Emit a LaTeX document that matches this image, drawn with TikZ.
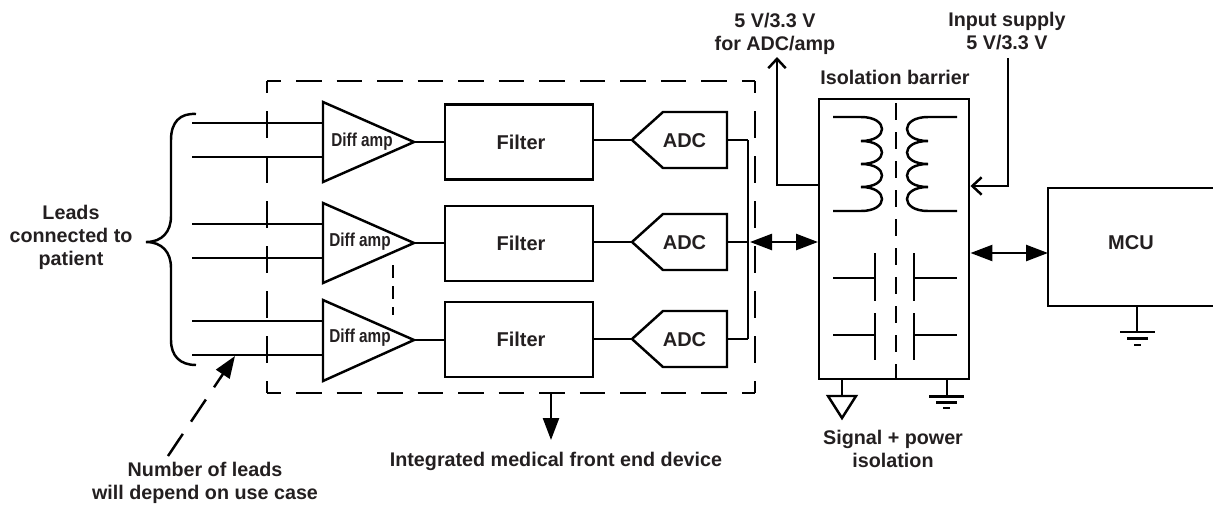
\documentclass[tikz,border=0pt]{standalone}
\usepackage{fontspec}
\setmainfont{Liberation Sans}[BoldFont={Liberation Sans Bold}]
\newfontfamily\condfont{Liberation Sans Bold}[FakeStretch=0.82]
\usetikzlibrary{arrows.meta}
\definecolor{ink}{HTML}{231F20}
\tikzset{
  x=0.75pt,y=-0.75pt,
  wire/.style={draw=black,line width=1.85pt,line cap=butt,line join=miter},
  block/.style={wire,inner sep=0pt,minimum width=0pt},
  lab/.style={font=\fontsize{14.8pt}{17pt}\selectfont\bfseries,text=ink,align=center,inner sep=0pt},
  amplab/.style={font=\condfont\fontsize{14pt}{16pt}\selectfont,text=ink,inner sep=0pt},
  boxlab/.style={lab,font=\fontsize{15pt}{17pt}\selectfont\bfseries},
  solidtip/.style={-{Triangle[length=16.5pt,width=12pt,fill=black]}},
  bothtip/.style={{Triangle[length=16.5pt,width=12pt,fill=black]}-{Triangle[length=16.5pt,width=12pt,fill=black]}},
  opentip/.style={-{Straight Barb[length=7pt,width=13pt,line width=1.85pt]}},
  vdash/.style={wire,dash pattern=on 20.25pt off 13.5pt,dash phase=11.25pt},
  hdash/.style={wire,dash pattern=on 19.1pt off 11.3pt,dash phase=8.6pt}
}
\begin{document}
\begin{tikzpicture}
\useasboundingbox (0,0) rectangle (1213,504);
% corners of the dashed device outline
\coordinate (tl) at (267,81); \coordinate (tr) at (755,81);
\coordinate (bl) at (267,393); \coordinate (br) at (755,393);
\draw[hdash] (tl) -- (tr);
\draw[hdash] (bl) -- (br);
\draw[vdash] (tl) -- (bl);
\draw[vdash] (tr) -- (br);
% amplifiers
\foreach \n/\t/\b/\m in {1/102/182/142,2/203/283/243,3/300/381/340}{
  \coordinate (amp\n top) at (323,\t);
  \coordinate (amp\n bot) at (323,\b);
  \coordinate (amp\n tip) at (414,\m);
  \draw[wire,line join=miter] (amp\n top) -- (amp\n tip) -- (amp\n bot) -- cycle;
}
\node[amplab] (amp1lab) at (362,142) {Diff amp};
\node[amplab] (amp2lab) at (360,242) {Diff amp};
\node[amplab] (amp3lab) at (360,338) {Diff amp};
% leads
\foreach \y/\k in {123/a,157/b,224/c,258/d,321/e,355/f}{
  \coordinate (lead\k s) at (192,\y);
  \coordinate (lead\k e) at (323,\y);
  \draw[wire] (lead\k s) -- (lead\k e);
}
% brace
\coordinate (bracetop) at (196,114);
\coordinate (bracetip) at (146,242);
\coordinate (bracebot) at (196,365);
\draw[wire] (bracetop) .. controls (180,113) and (171,122) .. (171,140)
  -- (171,216) .. controls (171,232) and (162,242) .. (bracetip)
  .. controls (162,242) and (171,252) .. (171,268)
  -- (171,340) .. controls (171,356) and (180,365) .. (bracebot);
% filters
\node[block,minimum width=147.5pt*0.75,minimum height=75pt*0.75,anchor=center] (f1) at (519,142) {};
\node[block,minimum width=147.5pt*0.75,minimum height=75pt*0.75,anchor=center] (f2) at (519,243.5) {};
\node[block,minimum width=147.5pt*0.75,minimum height=75pt*0.75,anchor=center] (f3) at (519,339.5) {};
\node[boxlab] (f1lab) at (521,142) {Filter};
\node[boxlab] (f2lab) at (521,243.5) {Filter};
\node[boxlab] (f3lab) at (521,339.5) {Filter};
% ADCs
\foreach \n/\m in {1/140,2/242,3/339}{
  \coordinate (adc\n tip) at (632,\m);
  \coordinate (adc\n r) at (727,\m);
  \coordinate (bus\n) at (748,\m);
  \draw[wire] (adc\n tip) -- (663,\m-28) -- (727,\m-28) -- (727,\m+28) -- (663,\m+28) -- cycle;
  \node[boxlab] (adc\n lab) at (684.5,\m+1) {ADC};
  \draw[wire] (adc\n r) -- (bus\n);
}
\draw[wire] (amp1tip) -- (f1.west |- amp1tip);
\draw[wire] (amp2tip) -- (f2.west |- amp2tip);
\draw[wire] (amp3tip) -- (f3.west |- amp3tip);
\draw[wire] (f1.east |- adc1tip) -- (adc1tip);
\draw[wire] (f2.east |- adc2tip) -- (adc2tip);
\draw[wire] (f3.east |- adc3tip) -- (adc3tip);
\draw[wire,line cap=square] (bus1) -- (bus3);
% amp continuation dashes
\coordinate (ampdasha) at (393,265); \coordinate (ampdashb) at (393,315);
\draw[wire,dash pattern=on 9.75pt off 6pt] (ampdasha) -- (ampdashb);
% isolation block
\node[block,minimum width=150pt*0.75,minimum height=280pt*0.75,anchor=north west] (iso) at (818,98) {};
\draw[wire,dash pattern=on 12.75pt off 9pt] (896,103) -- (896,378);
% coils
\draw[wire] (833,117) -- (861,117)
  .. controls (889,117) and (889,141) .. (861,141)
  .. controls (889,141) and (889,164) .. (861,164)
  .. controls (889,164) and (889,187) .. (861,187)
  .. controls (889,187) and (889,211) .. (861,211) -- (833,211);
\draw[wire] (957,117) -- (928,117)
  .. controls (900,117) and (900,141) .. (928,141)
  .. controls (900,141) and (900,164) .. (928,164)
  .. controls (900,164) and (900,187) .. (928,187)
  .. controls (900,187) and (900,211) .. (928,211) -- (957,211);
% capacitors
\draw[wire] (875,253) -- (875,301);
\draw[wire] (875,313) -- (875,360);
\draw[wire] (914,253) -- (914,301);
\draw[wire] (914,313) -- (914,360);
\draw[wire] (833,278) -- (875,278);
\draw[wire] (833,335) -- (875,335);
\draw[wire] (914,278) -- (957,278);
\draw[wire] (914,335) -- (957,335);
% isolated grounds
\coordinate (gnda) at (842,378);
\draw[wire] (gnda) -- (842,396);
\draw[wire] (828,396) -- (856,396) -- (842,418) -- cycle;
\coordinate (gndb) at (947,378);
\draw[wire] (gndb) -- (947,396);
\draw[wire] (929,396.5) -- (964,396.5);
\draw[wire] (936,402.5) -- (957,402.5);
\draw[wire] (943,408) -- (950,408);
% MCU (runs off the right edge)
\coordinate (mcutr) at (1213,188); \coordinate (mcubr) at (1213,306);
\coordinate (mcutl) at (1048,188); \coordinate (mcubl) at (1048,306);
\draw[wire] (mcutr) -- (mcutl) -- (mcubl) -- (mcubr);
\node[boxlab] (mcu) at (1131,243) {MCU};
\coordinate (gndc) at (1137,306);
\draw[wire] (gndc) -- (1137,332);
\draw[wire] (1120,332) -- (1155,332);
\draw[wire] (1127,338.5) -- (1148,338.5);
\draw[wire] (1134,345) -- (1141,345);
% main data arrows
\coordinate (busm) at (750,242);
\draw[wire,bothtip] (busm) -- (iso.west |- busm);
\coordinate (mcum) at (1048,253);
\draw[wire,bothtip] (iso.east |- mcum) -- (mcum);
% supply lines
\coordinate (suppout) at (777,57);
\coordinate (suppin) at (1008,58);
\draw[wire,opentip] (iso.west |- 0,185) -- (777,185) -- (suppout);
\draw[wire,opentip] (suppin) -- (1008,186) -- (iso.east |- 0,186);
% callout arrows
\coordinate (callfrom) at (168,456);
\coordinate (callto) at (235,356);
\draw[wire,dash pattern=on 20pt off 11pt,-{Triangle[length=16.5pt,width=12pt,fill=black]}] (callfrom) -- (callto);
\coordinate (devfrom) at (551,393);
\coordinate (devto) at (551,440);
\draw[wire,solidtip] (devfrom) -- (devto);
% labels
\node[lab] (lleads) at (71,237.5) {Leads\\connected to\\patient};
\node[lab] (lnum) at (205,483) {Number of leads\\will depend on use case};
\node[lab] (ldev) at (556,461) {Integrated medical front end device};
\node[lab] (lamp) at (775,34) {5 V/3.3 V\\for ADC/amp};
\node[lab] (lin) at (1007,31) {Input supply\\5 V/3.3 V};
\node[lab] (lbar) at (895,77) {Isolation barrier};
\node[lab] (lsig) at (893,449) {Signal + power\\isolation};
\end{tikzpicture}
\end{document}
